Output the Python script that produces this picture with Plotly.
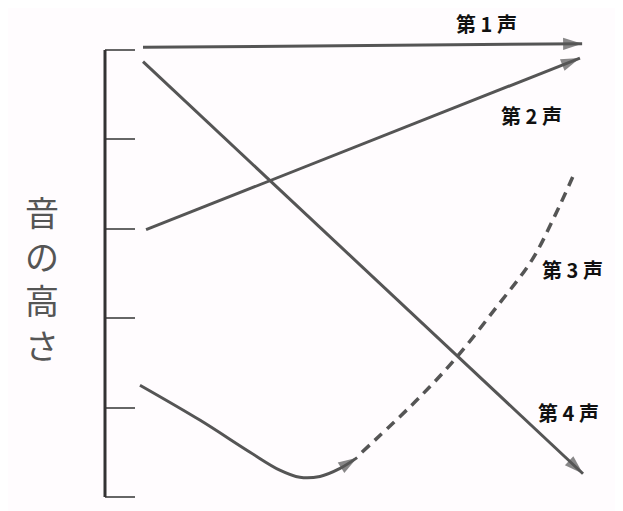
import plotly.graph_objects as go

# Pitch levels (0 = bottom, 5 = top), time normalised 0..1
levels = [0, 1, 2, 3, 4, 5]

tone1_x = [0.0, 1.005]
tone1_y = [5.03, 5.07]

tone2_x = [0.007, 1.0]
tone2_y = [2.99, 4.91]

tone4_x = [0.0, 1.007]
tone4_y = [4.87, 0.26]

tone3_solid_x = [-0.007, 0.130, 0.245, 0.313, 0.359, 0.405, 0.451, 0.490]
tone3_solid_y = [1.25, 0.86, 0.50, 0.30, 0.22, 0.23, 0.32, 0.44]

tone3_dash_x = [0.501, 0.634, 0.719, 0.810, 0.890, 0.943, 0.989]
tone3_dash_y = [0.50, 1.12, 1.57, 2.13, 2.65, 3.15, 3.64]

labels = ["第 1 声", "第 2 声", "第 3 声", "第 4 声"]
axis_title = "音の高さ"

LINE = "#555555"
fig = go.Figure()


def arrow_line(xs, ys, dash="solid", arrow=True, width=3):
    n = len(xs)
    sizes = [0] * (n - 1) + [20 if arrow else 0]
    fig.add_trace(go.Scatter(
        x=xs, y=ys,
        mode="lines+markers" if arrow else "lines",
        line=dict(color=LINE, width=width, dash=dash, shape="spline"),
        marker=dict(symbol="arrow", angleref="previous", size=sizes,
                    color=LINE, line=dict(width=0)),
        cliponaxis=False, hoverinfo="skip", showlegend=False,
    ))


arrow_line(tone1_x, tone1_y)
arrow_line(tone2_x, tone2_y)
arrow_line(tone4_x, tone4_y)
arrow_line(tone3_solid_x, tone3_solid_y)
arrow_line(tone3_dash_x, tone3_dash_y, dash="10px,7px", arrow=False, width=3.5)

# vertical pitch axis line between lowest and highest level
fig.add_shape(type="line", xref="paper", yref="y", x0=0, x1=0,
              y0=min(levels), y1=max(levels),
              line=dict(color="#333333", width=3))

label_pos = [(0.787, 5.30), (0.890, 4.27), (0.982, 2.54), (0.973, 0.95)]
for t, (lx, ly) in zip(labels, label_pos):
    fig.add_annotation(x=lx, y=ly, text=t, showarrow=False,
                       font=dict(family="Noto Sans CJK JP", size=20, color="#111111",
                                 weight="bold"))

fig.add_annotation(xref="paper", yref="paper", x=-0.130, y=0.463,
                   text="<br>".join(list(axis_title)), showarrow=False,
                   xanchor="center", yanchor="middle",
                   font=dict(family="Noto Sans CJK JP", size=34, color="#555555"))

fig.update_layout(
    width=615, height=503,
    margin=dict(l=97, r=33, t=0, b=0),
    paper_bgcolor="#fffcfe", plot_bgcolor="#fffcfe",
    font=dict(family="Noto Sans CJK JP"),
    xaxis=dict(range=[-0.087, 1.023], visible=False),
    yaxis=dict(range=[-0.157, 5.47], tickvals=levels, showticklabels=False,
               ticks="inside", ticklen=30, tickwidth=2, tickcolor="#666666",
               showline=False, showgrid=False, zeroline=False),
)

fig.write_html("out.html")
